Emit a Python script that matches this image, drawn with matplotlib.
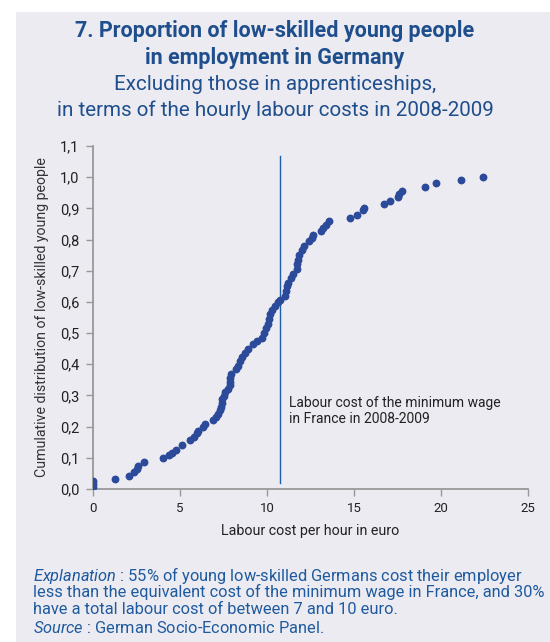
import matplotlib
matplotlib.use("Agg")
import matplotlib.pyplot as plt
from matplotlib.patches import Rectangle
from matplotlib.ticker import FuncFormatter

plt.rcParams['font.family'] = ['Roboto', 'DejaVu Sans']
plt.rcParams['mathtext.fontset'] = 'custom'
plt.rcParams['mathtext.it'] = 'Roboto:italic'
plt.rcParams['mathtext.rm'] = 'Roboto'

# Data: (labour cost per hour, cumulative share)
cost = [0.0, 0.0, 0.0, 1.25, 2.05, 2.35, 2.5, 2.6, 2.95, 4.05, 4.35, 4.55, 4.75,
        5.1, 5.6, 5.8, 5.95, 6.05, 6.3, 6.45, 6.9, 7.05, 7.2, 7.3, 7.35, 7.4,
        7.42, 7.5, 7.6, 7.75, 7.85, 7.88, 7.9, 7.95, 8.2, 8.35, 8.45, 8.55,
        8.75, 8.9, 9.2, 9.45, 9.7, 9.85, 9.95, 10.05, 10.1, 10.15, 10.3, 10.45,
        10.65, 10.75, 11.05, 11.1, 11.15, 11.2, 11.4, 11.5, 11.7, 11.75, 11.8,
        11.85, 12.0, 12.1, 12.4, 12.6, 12.65, 13.1, 13.2, 13.4, 13.55, 14.75,
        15.2, 15.5, 15.55, 16.75, 17.05, 17.55, 17.6, 17.75, 19.1, 19.7, 21.15,
        22.4]
share = [0.008, 0.017, 0.026, 0.032, 0.043, 0.053, 0.063, 0.073, 0.088, 0.098,
         0.108, 0.116, 0.126, 0.142, 0.157, 0.168, 0.178, 0.186, 0.198, 0.207,
         0.222, 0.232, 0.242, 0.252, 0.262, 0.275, 0.288, 0.298, 0.31, 0.32,
         0.332, 0.344, 0.356, 0.37, 0.384, 0.396, 0.41, 0.424, 0.436, 0.45,
         0.464, 0.476, 0.485, 0.5, 0.515, 0.53, 0.545, 0.56, 0.575, 0.588, 0.6,
         0.606, 0.62, 0.635, 0.65, 0.66, 0.676, 0.69, 0.706, 0.72, 0.735, 0.75,
         0.766, 0.78, 0.796, 0.806, 0.816, 0.826, 0.836, 0.848, 0.858, 0.87,
         0.88, 0.894, 0.902, 0.913, 0.924, 0.937, 0.946, 0.956, 0.969, 0.98,
         0.99, 1.0]
min_wage_cost = 10.75
x_ticks = [0, 5, 10, 15, 20, 25]
y_ticks = [0.0, 0.1, 0.2, 0.3, 0.4, 0.5, 0.6, 0.7, 0.8, 0.9, 1.0, 1.1]

title_color = '#1f4e8c'
text_color = '#1f5a9e'
dot_color = '#2c4a9a'
bg = '#ebebf1'

fig = plt.figure(figsize=(5.5, 6.42), dpi=100)
fig.patch.set_facecolor('white')
fig.add_artist(Rectangle((16/550, 0), 1 - 16/550, 1 - 12/642, transform=fig.transFigure,
                         facecolor=bg, edgecolor='none', zorder=-10))

ax = fig.add_axes([93/550, 1 - 489/642, 435/550, 343/642])
ax.set_facecolor('none')
ax.scatter(cost, share, s=32, color=dot_color, zorder=3, linewidths=0)
ax.plot([min_wage_cost, min_wage_cost], [0.02, 1.067], color='#1b5fa8', lw=1.0, zorder=2)
ax.text(min_wage_cost + 0.5, 0.25, 'Labour cost of the minimum wage\nin France in 2008-2009',
        fontsize=10, color='#222222', va='center', ha='left', linespacing=1.1)

ax.set_xlim(0, 25)
ax.set_ylim(0, 1.1)
ax.set_xticks(x_ticks)
ax.set_yticks(y_ticks)
ax.yaxis.set_major_formatter(FuncFormatter(lambda v, p: f'{v:.1f}'.replace('.', ',')))
for s in ['top', 'right']:
    ax.spines[s].set_visible(False)
for s in ['left', 'bottom']:
    ax.spines[s].set_color('#999999')
    ax.spines[s].set_linewidth(1.3)
ax.tick_params(axis='both', colors='#999999', length=5, width=1, labelcolor='#222222')
ax.tick_params(axis='y', labelsize=10.5, pad=5)
ax.tick_params(axis='x', labelsize=9.5, pad=4)
ax.set_xlabel('Labour cost per hour in euro', fontsize=10.3, color='#222222', labelpad=7)
ax.set_ylabel('Cumulative distribution of low-skilled young people', fontsize=10.2,
              color='#333333', labelpad=8)

fig.text(0.5, 1 - 31/642, '7. Proportion of low-skilled young people', ha='center', va='center',
         fontsize=15.5, fontweight='bold', color=title_color)
fig.text(0.5, 1 - 58/642, 'in employment in Germany', ha='center', va='center',
         fontsize=15.5, fontweight='bold', color=title_color)
fig.text(0.5, 1 - 84/642, 'Excluding those in apprenticeships,', ha='center', va='center',
         fontsize=14.9, color=title_color)
fig.text(0.5, 1 - 110/642, 'in terms of the hourly labour costs in 2008-2009', ha='center',
         va='center', fontsize=14.9, color=title_color)

fig.text(33/550, 1 - 575/642,
         r'$\it{Explanation}$' + ' : 55% of young low-skilled Germans cost their employer',
         fontsize=11.8, color=text_color, va='center', ha='left')
fig.text(33/550, 1 - 592/642,
         'less than the equivalent cost of the minimum wage in France, and 30%',
         fontsize=11.8, color=text_color, va='center', ha='left')
fig.text(33/550, 1 - 609/642, 'have a total labour cost of between 7 and 10 euro.',
         fontsize=11.8, color=text_color, va='center', ha='left')
fig.text(33/550, 1 - 628/642, r'$\it{Source}$' + ' : German Socio-Economic Panel.',
         fontsize=11.8, color=text_color, va='center', ha='left')

fig.savefig('out.png', dpi=100, facecolor=fig.get_facecolor())
